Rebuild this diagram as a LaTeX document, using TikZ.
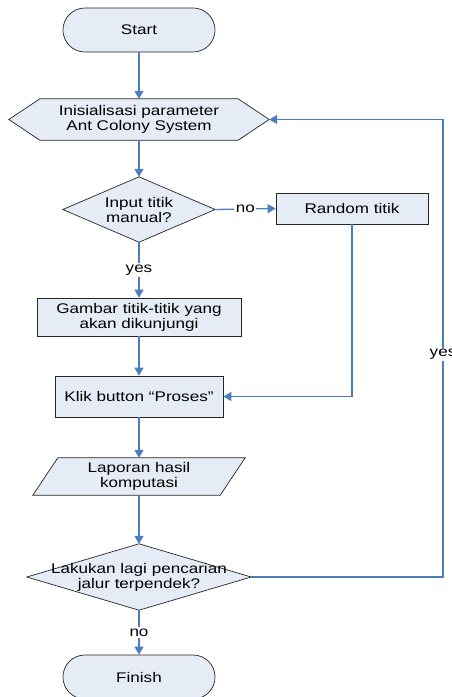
\documentclass[tikz,border=0pt]{standalone}
\usepackage{fontspec}
\setmainfont{Liberation Sans}[FakeStretch=1.22]
\usetikzlibrary{arrows.meta,backgrounds}
\definecolor{shfill}{HTML}{E6ECF6}
\definecolor{lnblue}{HTML}{4A7EBF}
\tikzset{
  txt/.style={inner sep=0pt, align=center, font=\fontsize{14}{15}\selectfont},
  term/.style={txt, draw=black!85, fill=shfill, line width=0.7pt, rounded corners=21.9pt, minimum width=152pt, minimum height=44pt},
  procbox/.style={txt, draw=black!85, fill=shfill, line width=0.7pt},
  holder/.style={txt},
  shp/.style={draw=black!85, fill=shfill, line width=0.7pt, line join=miter},
  arr/.style={draw=lnblue, line width=1.3pt, -{Triangle[width=9pt,length=8pt]}},
  lbl/.style={txt, fill=white, inner sep=1.5pt},
}
\begin{document}
\begin{tikzpicture}[x=1pt,y=-1pt]
\useasboundingbox (0,0) rectangle (452,697);

\node[term] (start) at (139,30) {Start};
\node[holder, minimum width=260pt, minimum height=41pt] (init) at (139,119.5) {Inisialisasi parameter\\Ant Colony System};
\node[holder, minimum width=152pt, minimum height=65pt] (d1) at (139,209.5) {Input titik\\manual?};
\node[procbox, minimum width=152pt, minimum height=31pt] (rand) at (352,208.5) {Random titik};
\node[procbox, minimum width=204pt, minimum height=38pt] (gambar) at (139,317) {Gambar titik-titik yang\\akan dikunjungi};
\node[procbox, minimum width=168pt, minimum height=41pt] (klik) at (139,396.5) {Klik button “Proses”};
\node[holder, minimum width=187pt, minimum height=37pt] (lap) at (139,476.5) {Laporan hasil\\komputasi};
\node[holder, minimum width=224pt, minimum height=66pt] (d2) at (139,577) {Lakukan lagi pencarian\\jalur terpendek?};
\node[term] (finish) at (139,677) {Finish};

\begin{pgfonlayer}{background}
\fill[white] (0,0) rectangle (452,697);
\path[shp] (init.west) -- ([xshift=31pt]init.north west) -- ([xshift=-31pt]init.north east) -- (init.east) -- ([xshift=-31pt]init.south east) -- ([xshift=31pt]init.south west) -- cycle;
\path[shp] (d1.west) -- (d1.north) -- (d1.east) -- (d1.south) -- cycle;
\path[shp] ([xshift=12.5pt]lap.north west) -- ([xshift=12.5pt]lap.north east) -- ([xshift=-12.5pt]lap.south east) -- ([xshift=-12.5pt]lap.south west) -- cycle;
\path[shp] (d2.west) -- (d2.north) -- (d2.east) -- (d2.south) -- cycle;
\end{pgfonlayer}

\coordinate (loopc) at (443,577);

\draw[arr] (start) -- (init);
\draw[arr] (init) -- (d1);
\draw[arr] (d1.east) -- node[lbl] {no} (rand.west);
\draw[arr] (d1.south) -- node[lbl] {yes} (gambar.north);
\draw[arr] (gambar) -- (klik);
\draw[arr] (rand.south) |- (klik.east);
\draw[arr] (klik) -- (lap.north);
\draw[arr] (lap.south) -- (d2.north);
\draw[arr] (d2.south) -- node[lbl] {no} (finish.north);
\draw[arr] (d2.east) -- (loopc) |- node[lbl, pos=0.243] {yes} (init.east);
\end{tikzpicture}
\end{document}
